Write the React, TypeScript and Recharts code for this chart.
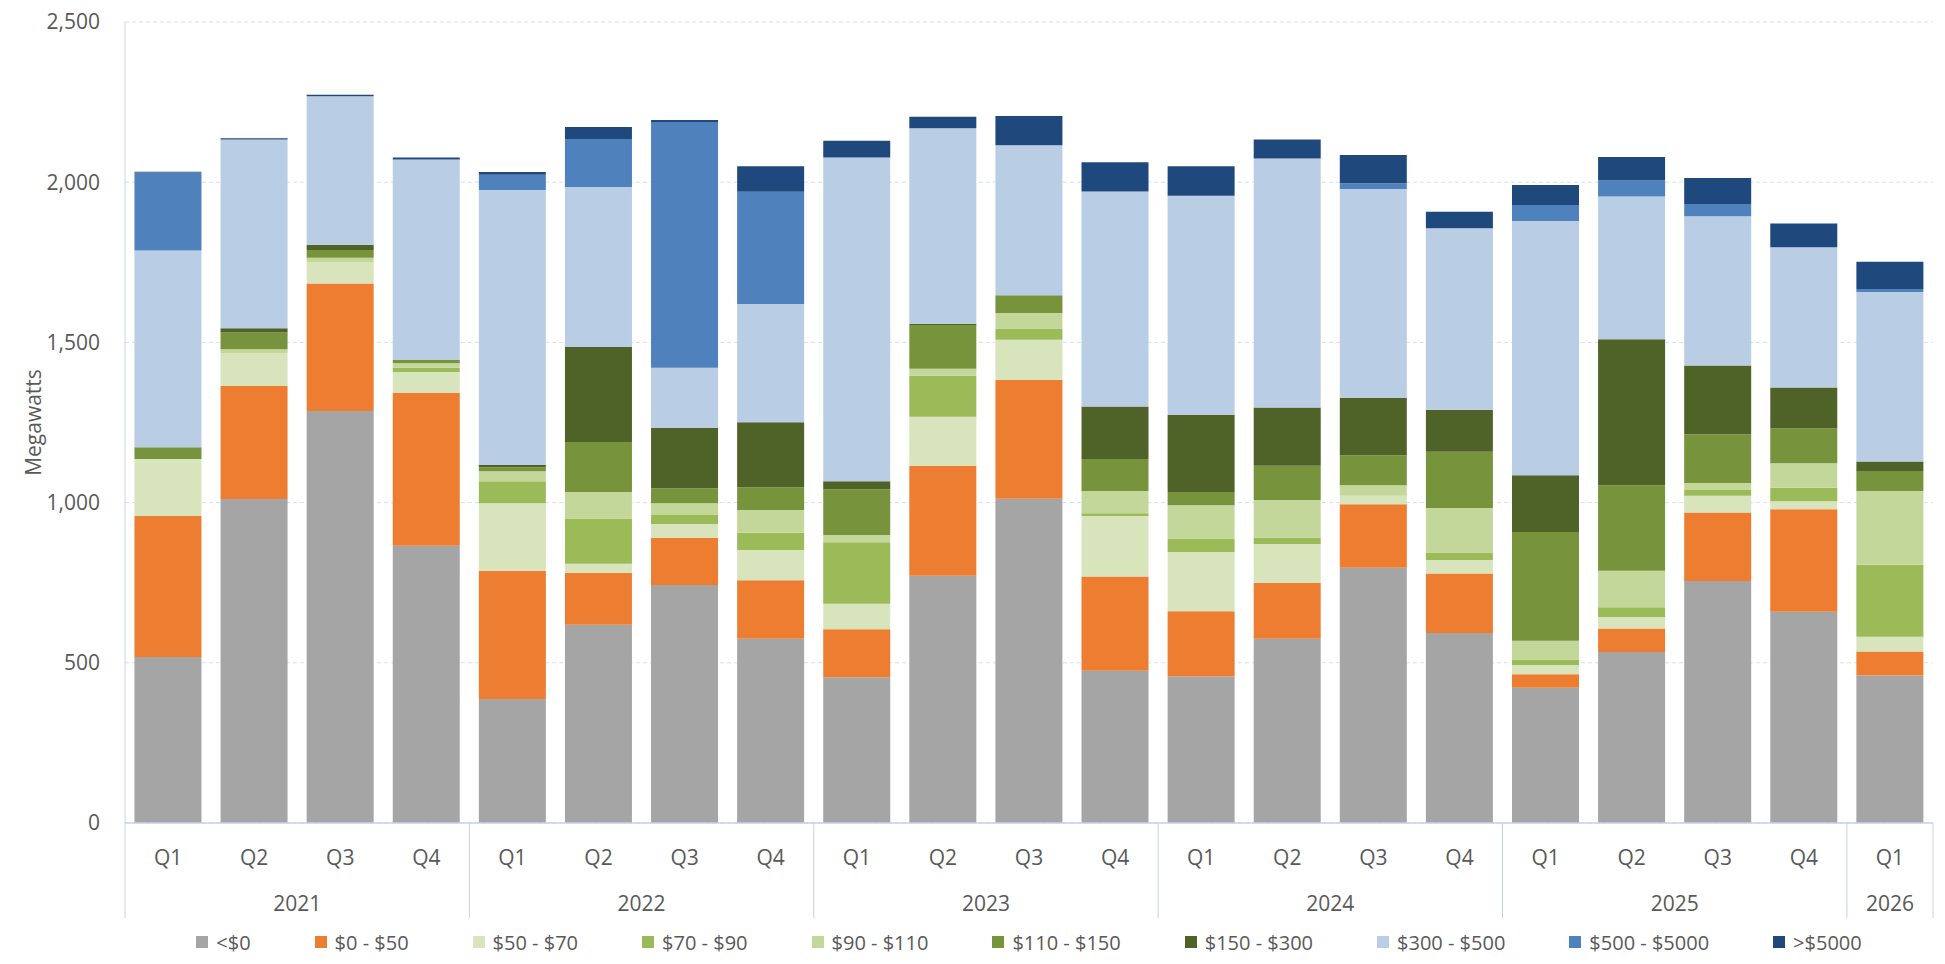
import React from 'react';
import { BarChart, Bar, XAxis, YAxis, CartesianGrid, Legend } from 'recharts';

const FONT = '"Segoe UI", "Open Sans", "Noto Sans", sans-serif';
const TEXT = '#595959';
const AXIS = '#C3D3EA';
const GRID = '#D5E0F1';

const quarters = ['Q1', 'Q2', 'Q3', 'Q4', 'Q1', 'Q2', 'Q3', 'Q4', 'Q1', 'Q2', 'Q3', 'Q4', 'Q1', 'Q2', 'Q3', 'Q4', 'Q1', 'Q2', 'Q3', 'Q4', 'Q1'];
const years = ['2021', '2021', '2021', '2021', '2022', '2022', '2022', '2022', '2023', '2023', '2023', '2023', '2024', '2024', '2024', '2024', '2025', '2025', '2025', '2025', '2026'];

const seriesNames = ['<$0', '$0 - $50', '$50 - $70', '$70 - $90', '$90 - $110', '$110 - $150', '$150 - $300', '$300 - $500', '$500 - $5000', '>$5000'];
const seriesColors = ['#A5A5A5', '#ED7D31', '#D8E4BC', '#9BBB59', '#C4D79B', '#77933C', '#4F6228', '#B9CDE5', '#4F81BD', '#1F497D'];

const lt0 = [518, 1011, 1286, 865, 387, 619, 743, 575, 455, 772, 1012, 475, 458, 575, 797, 593, 422, 534, 755, 659, 460];
const b0to50 = [440, 353, 398, 477, 400, 162, 147, 183, 150, 343, 371, 294, 203, 174, 198, 186, 42, 73, 214, 320, 75];
const b50to70 = [178, 103, 67, 66, 211, 28, 43, 94, 79, 153, 125, 189, 185, 122, 26, 42, 29, 36, 52, 25, 46];
const b70to90 = [0, 0, 0, 13, 69, 141, 28, 54, 192, 128, 35, 9, 42, 20, 0, 23, 17, 30, 18, 42, 225];
const b90to110 = [0, 12, 13, 14, 31, 83, 37, 71, 23, 22, 49, 69, 104, 117, 33, 139, 59, 114, 22, 77, 230];
const b110to150 = [37, 52, 24, 10, 12, 156, 47, 71, 143, 136, 55, 100, 41, 107, 94, 176, 339, 267, 152, 108, 63];
const b150to300 = [0, 13, 17, 0, 8, 297, 188, 203, 25, 4, 0, 164, 241, 182, 179, 131, 177, 456, 215, 128, 29];
const b300to500 = [614, 589, 463, 626, 858, 499, 188, 369, 1010, 610, 468, 671, 684, 777, 652, 566, 794, 445, 466, 438, 529];
const b500to5000 = [243, 0, 0, 0, 47, 150, 767, 350, 0, 0, 0, 0, 0, 0, 18, 0, 50, 50, 38, 0, 10];
const gt5000 = [3, 4, 5, 6, 9, 37, 6, 80, 52, 36, 92, 91, 92, 59, 88, 52, 62, 74, 81, 74, 85];

const seriesValues = [lt0, b0to50, b50to70, b70to90, b90to110, b110to150, b150to300, b300to500, b500to5000, gt5000];
const yTicks = [0, 500, 1000, 1500, 2000, 2500];

const data = quarters.map((q, i) => {
  const row: Record<string, any> = { id: `${years[i]} ${q}` };
  seriesValues.forEach((arr, k) => {
    row['s' + k] = arr[i];
  });
  return row;
});

const CategoryTick = (props: any) => {
  const { x, y, payload } = props;
  const i: number = payload.index;
  const half: number = typeof payload.offset === 'number' && payload.offset > 0 ? payload.offset : 43;
  const band = half * 2;
  const els: React.ReactNode[] = [];
  els.push(
    <text key="q" x={x} y={y + 34} textAnchor="middle" dominantBaseline="central" fill={TEXT} fontFamily={FONT} fontSize={21}>
      {quarters[i]}
    </text>
  );
  if (i === 0 || years[i] !== years[i - 1]) {
    let n = 0;
    while (i + n < years.length && years[i + n] === years[i]) n++;
    const left = x - half;
    els.push(<line key="sep" x1={left} x2={left} y1={y} y2={y + 95} stroke={AXIS} strokeWidth={1} />);
    els.push(
      <text key="yr" x={left + (n * band) / 2} y={y + 80} textAnchor="middle" dominantBaseline="central" fill={TEXT} fontFamily={FONT} fontSize={21}>
        {years[i]}
      </text>
    );
  }
  if (i === years.length - 1) {
    els.push(<line key="end" x1={x + half} x2={x + half} y1={y} y2={y + 95} stroke={AXIS} strokeWidth={1} />);
  }
  return <g>{els}</g>;
};

const LegendContent = () => (
  <div
    style={{
      display: 'flex',
      justifyContent: 'center',
      alignItems: 'center',
      height: 28,
      fontFamily: FONT,
      fontSize: 20,
      color: TEXT,
      gap: 64,
      whiteSpace: 'nowrap',
    }}
  >
    {seriesNames.map((n, k) => (
      <div key={n} style={{ display: 'flex', alignItems: 'center' }}>
        <span style={{ width: 12, height: 12, background: seriesColors[k], marginRight: 8, display: 'inline-block' }} />
        <span>{n}</span>
      </div>
    ))}
  </div>
);

const YLabel = (props: any) => {
  const vb = props.viewBox || {};
  const cx = 25;
  const cy = typeof vb.y === 'number' ? vb.y + vb.height / 2 : 414;
  return (
    <text x={cx} y={cy} transform={`rotate(-90 ${cx} ${cy})`} textAnchor="middle" dominantBaseline="central" fill={TEXT} fontFamily={FONT} fontSize={21}>
      Megawatts
    </text>
  );
};

export default function App() {
  return (
    <div style={{ width: 1929, height: 948 }}>
      <BarChart width={1929} height={948} data={data} margin={{ top: 14, right: 4, left: 0, bottom: 0 }} barCategoryGap="11%">
        <CartesianGrid vertical={false} stroke={GRID} strokeDasharray="4 3" />
        <XAxis
          dataKey="id"
          height={105}
          interval={0}
          tickLine={false}
          tickSize={0}
          tickMargin={0}
          axisLine={{ stroke: AXIS, strokeWidth: 1.5 }}
          tick={<CategoryTick />}
        />
        <YAxis
          width={117}
          domain={[0, 2500]}
          ticks={yTicks}
          tickLine={false}
          tickSize={0}
          tickMargin={25}
          axisLine={{ stroke: AXIS, strokeWidth: 1 }}
          tick={{ fill: TEXT, fontFamily: FONT, fontSize: 21 }}
          tickFormatter={(v: number) => v.toLocaleString('en-US')}
          label={{ content: (p: any) => <YLabel {...p} /> }}
        />
        <Legend verticalAlign="bottom" content={<LegendContent />} wrapperStyle={{ left: 117, width: 1808 }} />
        {seriesNames.map((n, k) => (
          <Bar key={n} dataKey={'s' + k} name={n} stackId="a" fill={seriesColors[k]} isAnimationActive={false} />
        ))}
      </BarChart>
    </div>
  );
}
